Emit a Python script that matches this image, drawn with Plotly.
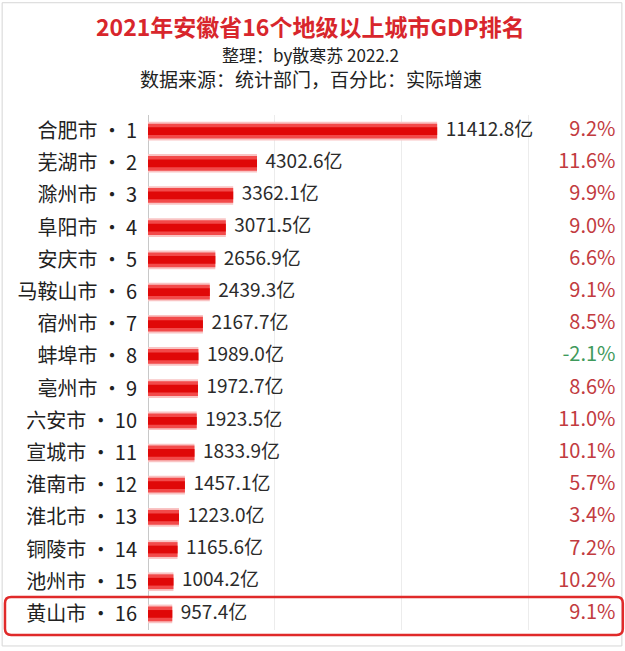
import plotly.graph_objects as go

# 2021年安徽省16个地级以上城市GDP排名
cities = ["合肥市", "芜湖市", "滁州市", "阜阳市", "安庆市", "马鞍山市", "宿州市", "蚌埠市",
          "亳州市", "六安市", "宣城市", "淮南市", "淮北市", "铜陵市", "池州市", "黄山市"]
ranks = list(range(1, 17))
gdp = [11412.8, 4302.6, 3362.1, 3071.5, 2656.9, 2439.3, 2167.7, 1989.0,
       1972.7, 1923.5, 1833.9, 1457.1, 1223.0, 1165.6, 1004.2, 957.4]
growth = [9.2, 11.6, 9.9, 9.0, 6.6, 9.1, 8.5, -2.1, 8.6, 11.0, 10.1, 5.7, 3.4, 7.2, 10.2, 9.1]

FONT = "Noto Sans CJK SC"
XMAX = 18630

labels = [f"{c} ·\u2009{r}" for c, r in zip(cities, ranks)]
pct_colors = ["#3f9a5c" if g < 0 else "#c23b3f" for g in growth]

fig = go.Figure()

# glossy bars: pale outer layer, bright core
for w, col in [(0.58, "#f9c4c4"), (0.46, "#f24a4a"), (0.24, "#e00808")]:
    fig.add_trace(go.Bar(
        x=gdp, y=labels, orientation="h", width=w,
        marker=dict(color=col, line=dict(width=0)),
        hoverinfo="skip", showlegend=False,
    ))

# value labels
fig.add_trace(go.Scatter(
    x=gdp, y=labels, mode="text",
    text=[f"  {v:.1f}亿" for v in gdp],
    textposition="middle right",
    textfont=dict(family=FONT, size=19, color="#2b2b2b"),
    hoverinfo="skip", showlegend=False, cliponaxis=False,
))

# growth column
fig.add_trace(go.Scatter(
    x=[XMAX] * len(growth), y=labels, mode="text",
    text=[f"{g:.1f}% " for g in growth],
    textposition="middle left",
    textfont=dict(family=FONT, size=20, color=pct_colors),
    hoverinfo="skip", showlegend=False, cliponaxis=False,
))

# rounded highlight box round the last row (paper coords)
bx0, bx1, by0, by1 = -0.303, 1.006, -0.0097, 0.064
rx, ry = 0.013, 0.012
box = (f"M {bx0 + rx},{by1} L {bx1 - rx},{by1} Q {bx1},{by1} {bx1},{by1 - ry} "
       f"L {bx1},{by0 + ry} Q {bx1},{by0} {bx1 - rx},{by0} "
       f"L {bx0 + rx},{by0} Q {bx0},{by0} {bx0},{by0 + ry} "
       f"L {bx0},{by1 - ry} Q {bx0},{by1} {bx0 + rx},{by1} Z")

fig.update_layout(
    width=625, height=651,
    margin=dict(l=148, r=5, t=115, b=21),
    paper_bgcolor="white", plot_bgcolor="white",
    barmode="overlay",
    font=dict(family=FONT),
    xaxis=dict(range=[0, XMAX], tickvals=[0, 5000, 10000, 15000], showticklabels=False,
               showgrid=True, gridcolor="#ececec", gridwidth=1,
               zeroline=True, zerolinecolor="#c8c8c8", zerolinewidth=1, fixedrange=True),
    yaxis=dict(range=[15.5, -0.5], showgrid=False, zeroline=False,
               tickfont=dict(family=FONT, size=20, color="#222222"),
               ticklabelstandoff=10, fixedrange=True),
    shapes=[
        # outer frame
        dict(type="rect", xref="paper", yref="paper", x0=-0.309, x1=1.004, y0=-0.031, y1=1.218,
             line=dict(color="#d6d6d6", width=1)),
        dict(type="path", xref="paper", yref="paper", path=box,
             line=dict(color="#e02a2a", width=2.5)),
    ],
    annotations=[
        dict(text="<b>2021年安徽省16个地级以上城市GDP排名</b>", xref="paper", yref="paper",
             x=0.345, y=1.172, xanchor="center", yanchor="middle", showarrow=False,
             font=dict(family=FONT, size=23, color="#d8262c")),
        dict(text="整理：by散寒苏 2022.2", xref="paper", yref="paper",
             x=0.345, y=1.117, xanchor="center", yanchor="middle", showarrow=False,
             font=dict(family=FONT, size=17, color="#222222")),
        dict(text="数据来源：统计部门，百分比：实际增速", xref="paper", yref="paper",
             x=0.345, y=1.070, xanchor="center", yanchor="middle", showarrow=False,
             font=dict(family=FONT, size=19, color="#222222")),
    ],
)

fig.write_html("out.html", config={"displayModeBar": False},
               post_script="document.body.style.margin='0';")
